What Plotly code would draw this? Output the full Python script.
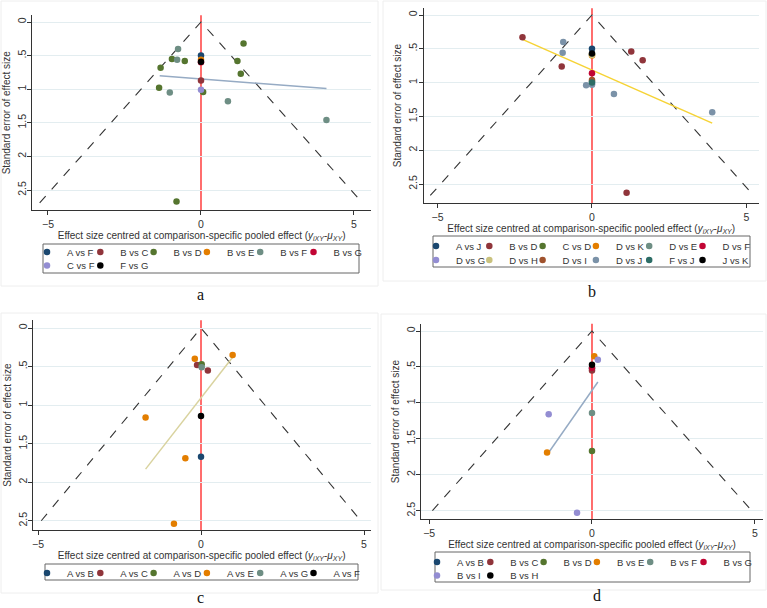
import plotly.graph_objects as go

W, H = 767, 608

# Stata s2color-like palette
NAVY = "#1a476f"; MAROON = "#90353b"; GREEN = "#55752f"; ORANGE = "#e37e00"
TEAL = "#6e8e84"; CRAN = "#c10534"; LAV = "#938dd2"; KHAKI = "#cac27e"
SIENNA = "#a0522d"; EMID = "#7b92a8"; EMER = "#2d6d66"; BLACK = "#000000"

# ---------------- Panel a ----------------
a_names = ["A vs F", "B vs C", "B vs D", "B vs E", "B vs F", "B vs G", "C vs F", "F vs G"]
a_colors = [NAVY, MAROON, GREEN, ORANGE, TEAL, CRAN, LAV, BLACK]
a_effect = [
    [0.0],
    [0.0],
    [1.39, -0.95, -0.53, -1.32, 1.19, 1.30, -1.37, 0.07, -0.80],
    [0.0],
    [-0.75, -0.78, -1.02, 0.88, 4.10],
    [0.0],
    [0.0],
    [0.0],
]
a_se = [
    [0.50],
    [0.87],
    [0.32, 0.55, 0.58, 0.68, 0.58, 0.77, 0.98, 1.04, 2.67],
    [0.56],
    [0.40, 0.56, 1.05, 1.18, 1.46],
    [0.60],
    [1.01],
    [0.59],
]
a_fit_x = [-1.35, 4.10]
a_fit_se = [0.80, 0.99]

# ---------------- Panel b ----------------
b_names = ["A vs J", "B vs D", "C vs D", "D vs K", "D vs E", "D vs F",
           "D vs G", "D vs H", "D vs I", "D vs J", "F vs J", "J vs K"]
b_colors = [NAVY, MAROON, GREEN, ORANGE, TEAL, CRAN, LAV, KHAKI, SIENNA, EMID, EMER, BLACK]
b_effect = [
    [0.0],
    [-2.25, -0.98, 1.27, 1.64, 1.12],
    [0.0],
    [0.0],
    [0.0],
    [0.0],
    [0.0],
    [0.0],
    [0.0],
    [-0.93, -0.95, -0.19, 0.0, 0.71, 3.89],
    [0.0],
    [0.0],
]
b_se = [
    [0.50],
    [0.33, 0.76, 0.54, 0.67, 2.63],
    [0.58],
    [0.60],
    [0.98],
    [0.86],
    [1.02],
    [0.59],
    [0.96],
    [0.40, 0.56, 1.04, 1.03, 1.17, 1.44],
    [1.00],
    [0.57],
]
b_fit_x = [-2.25, 3.89]
b_fit_se = [0.36, 1.60]

# ---------------- Panel c ----------------
c_names = ["A vs B", "A vs C", "A vs D", "A vs E", "A vs G", "A vs F"]
c_colors = [NAVY, MAROON, GREEN, ORANGE, TEAL, BLACK]
c_effect = [
    [0.0],
    [-0.12, 0.21],
    [0.02],
    [-0.19, 0.97, -1.70, -0.48, -0.83],
    [0.02],
    [0.0],
]
c_se = [
    [1.67],
    [0.48, 0.55],
    [0.47],
    [0.40, 0.35, 1.16, 1.69, 2.54],
    [0.51],
    [1.14],
]
c_fit_x = [-1.70, 0.97]
c_fit_se = [1.83, 0.38]

# ---------------- Panel d ----------------
d_names = ["A vs B", "B vs C", "B vs D", "B vs E", "B vs F", "B vs G", "B vs I", "B vs H"]
d_colors = [NAVY, MAROON, GREEN, ORANGE, TEAL, CRAN, LAV, BLACK]
d_effect = [
    [0.0],
    [0.0],
    [0.0],
    [0.07, -1.38],
    [0.0],
    [0.0],
    [0.18, -1.33, -0.46],
    [0.0],
]
d_se = [
    [0.52],
    [0.55],
    [1.67],
    [0.35, 1.69],
    [1.14],
    [0.51],
    [0.40, 1.16, 2.53],
    [0.47],
]
d_fit_x = [-1.33, 0.18]
d_fit_se = [1.69, 0.71]

funnel_se_max = [2.69, 2.67, 2.50, 2.50]
panel_labels = ["a", "b", "c", "d"]
y_tickvals = [0, 0.5, 1, 1.5, 2, 2.5]
y_ticktext = ["0", ".5", "1", "1.5", "2", "2.5"]
x_tickvals = [-5, 0, 5]

# ---------------- Layout geometry (pixels) ----------------
panels = [
    dict(names=a_names, colors=a_colors, ex=a_effect, se=a_se, fx=a_fit_x, fse=a_fit_se,
         fitcol="#96abc4", x0px=201, xs=30.6, xr=[-5.52, 5.56], y0px=22, ys=67.2, yr=[-0.1, 2.8],
         rows=[[0, 1, 2, 3, 4, 5], [6, 7]], rowy=[252, 265.5], legx=50.5, box=[43, 244, 359, 273],
         lab=(200, 294), frame=[1, 1, 378, 286]),
    dict(names=b_names, colors=b_colors, ex=b_effect, se=b_se, fx=b_fit_x, fse=b_fit_se,
         fitcol="#f6d335", x0px=592, xs=30.9, xr=[-5.45, 5.40], y0px=15, ys=67.6, yr=[-0.1, 2.78],
         rows=[[0, 1, 2, 3, 4, 5], [6, 7, 8, 9, 10, 11]], rowy=[246, 260], legx=439.5, box=[433, 236, 750, 267],
         lab=(592, 291), frame=[383, 1, 766, 281]),
    dict(names=c_names, colors=c_colors, ex=c_effect, se=c_se, fx=c_fit_x, fse=c_fit_se,
         fitcol="#d9d39f", x0px=201, xs=32.6, xr=[-5.16, 5.20], y0px=328, ys=77.1, yr=[-0.1, 2.62],
         rows=[[0, 1, 2, 3, 4, 5]], rowy=[573], legx=50.5, box=[45, 564, 358, 580],
         lab=(201, 597), frame=[1, 313, 378, 593]),
    dict(names=d_names, colors=d_colors, ex=d_effect, se=d_se, fx=d_fit_x, fse=d_fit_se,
         fitcol="#96abc4", x0px=592, xs=32.57, xr=[-5.25, 5.25], y0px=331, ys=71.87, yr=[-0.1, 2.62],
         rows=[[0, 1, 2, 3, 4, 5], [6, 7]], rowy=[562, 575.5], legx=440.5, box=[435, 552, 750, 582],
         lab=(597, 595), frame=[381, 314, 766, 590]),
]
LEG_STEP = 53.3     # px between legend entries
LEG_MOFF = 20.5     # px from legend left to its marker centre
LEG_SHIFT = -3      # nudge so the text lands near the reference text

FONT = "Liberation Sans, Arial, sans-serif"
TXT = "#333333"
fig = go.Figure()
layout = dict(width=W, height=H, margin=dict(l=0, r=0, t=0, b=0),
              paper_bgcolor="white", plot_bgcolor="white", showlegend=True,
              font=dict(family=FONT, size=10, color=TXT))
shapes = []
annotations = []
legend_count = 0

for i, p in enumerate(panels):
    k = "" if i == 0 else str(i + 1)
    xa, ya = "x" + k, "y" + k
    px_l = p["x0px"] + p["xr"][0] * p["xs"]
    px_r = p["x0px"] + p["xr"][1] * p["xs"]
    py_t = p["y0px"] + p["yr"][0] * p["ys"]
    py_b = p["y0px"] + p["yr"][1] * p["ys"]
    layout["xaxis" + k] = dict(
        domain=[px_l / W, px_r / W], anchor=ya, range=p["xr"], tickvals=x_tickvals,
        ticks="outside", ticklen=4, tickcolor=TXT, showline=True, linecolor=TXT, linewidth=1,
        showgrid=False, zeroline=False, tickfont=dict(size=10.5, color=TXT),
        title=dict(text="Effect size centred at comparison-specific pooled effect "
                        "(<i>y<sub>iXY</sub></i>-<i>μ<sub>XY</sub></i>)",
                   font=dict(size=10, color=TXT), standoff=1))
    layout["yaxis" + k] = dict(
        domain=[1 - py_b / H, 1 - py_t / H], anchor=xa, range=[p["yr"][1], p["yr"][0]],
        tickvals=y_tickvals, ticktext=y_ticktext, tickangle=-90, ticklabelstandoff=-3,
        ticks="outside", ticklen=4, tickcolor=TXT, showline=True, linecolor=TXT, linewidth=1,
        showgrid=True, gridcolor="#e3edf0", gridwidth=1, zeroline=False,
        tickfont=dict(size=10.5, color=TXT),
        title=dict(text="Standard error of effect size", font=dict(size=10, color=TXT), standoff=3))

    smax = funnel_se_max[i]
    fig.add_trace(go.Scatter(x=[-1.96 * smax, 0, 1.96 * smax], y=[smax, 0, smax], mode="lines",
                             line=dict(color="#333333", width=1.1, dash="dash"),
                             showlegend=False, hoverinfo="skip", xaxis=xa, yaxis=ya))
    shapes.append(dict(type="line", xref=xa, yref=ya + " domain", x0=0, x1=0, y0=0, y1=1,
                       line=dict(color="#ff2020", width=1.3), layer="below"))
    fig.add_trace(go.Scatter(x=p["fx"], y=p["fse"], mode="lines",
                             line=dict(color=p["fitcol"], width=1.5),
                             showlegend=False, hoverinfo="skip", xaxis=xa, yaxis=ya))

    leg_of = {}
    for r, (row, ry) in enumerate(zip(p["rows"], p["rowy"])):
        for c, idx in enumerate(row):
            legend_count += 1
            lid = "legend" if legend_count == 1 else "legend" + str(legend_count)
            mx = p["legx"] + c * LEG_STEP + LEG_SHIFT
            layout[lid] = dict(x=(mx - LEG_MOFF) / W, xanchor="left",
                               y=1 - ry / H, yanchor="middle", bgcolor="rgba(0,0,0,0)",
                               borderwidth=0, font=dict(size=9.5, color=TXT, family=FONT),
                               itemwidth=30, itemclick=False, itemdoubleclick=False)
            leg_of[idx] = lid

    for j, name in enumerate(p["names"]):
        fig.add_trace(go.Scatter(x=p["ex"][j], y=p["se"][j], mode="markers", name=name,
                                 marker=dict(color=p["colors"][j], size=6.5, line=dict(width=0)),
                                 legend=leg_of[j], xaxis=xa, yaxis=ya))

    bx = p["box"]
    shapes.append(dict(type="rect", xref="paper", yref="paper",
                       x0=bx[0] / W, x1=bx[2] / W, y0=1 - bx[3] / H, y1=1 - bx[1] / H,
                       line=dict(color="#666666", width=1), fillcolor="rgba(0,0,0,0)"))
    fr = p["frame"]
    shapes.append(dict(type="rect", xref="paper", yref="paper",
                       x0=fr[0] / W, x1=fr[2] / W, y0=1 - fr[3] / H, y1=1 - fr[1] / H,
                       line=dict(color="#eeeeee", width=1), fillcolor="rgba(0,0,0,0)", layer="below"))
    annotations.append(dict(text=panel_labels[i], xref="paper", yref="paper",
                            x=p["lab"][0] / W, y=1 - p["lab"][1] / H, showarrow=False,
                            xanchor="center", yanchor="middle",
                            font=dict(family="Liberation Serif, Times New Roman, serif",
                                      size=16, color="#111111")))

layout["shapes"] = shapes
layout["annotations"] = annotations
fig.update_layout(**layout)
fig.write_html("out.html", config={"displayModeBar": False},
               post_script="document.body.style.margin='0px';")
